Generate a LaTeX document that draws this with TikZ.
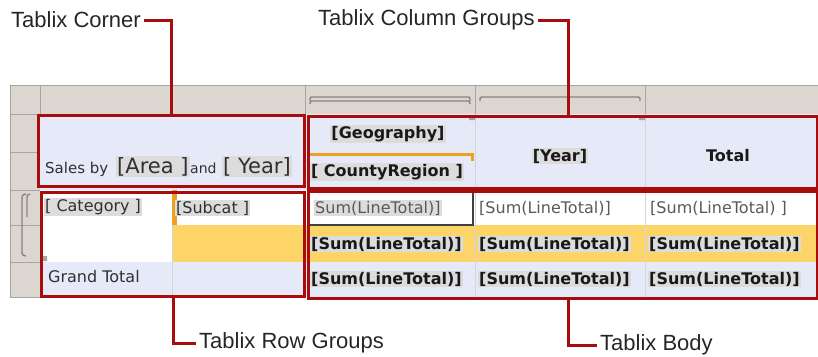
\documentclass[tikz,border=0pt]{standalone}
\usepackage{fontspec}
\setmainfont{DejaVu Sans}
\newfontfamily\calfont{Liberation Sans}
\usetikzlibrary{positioning}
\definecolor{hgrey}{HTML}{DCD6D0}
\definecolor{lgrey}{HTML}{A8A4A0}
\definecolor{bgrey}{HTML}{8A847E}
\definecolor{cgrey}{HTML}{D4D4DC}
\definecolor{lblue}{HTML}{E6EAF8}
\definecolor{yel}{HTML}{FCD468}
\definecolor{orng}{HTML}{F0A020}
\definecolor{tred}{HTML}{A80C0C}
\definecolor{fgrey}{HTML}{DCDCDC}
\definecolor{dtext}{HTML}{303030}
\definecolor{mtext}{HTML}{5A5A5A}
\begin{document}
\begin{tikzpicture}[x=1pt,y=-1pt,
  hline/.style={draw=lgrey,line width=0.8pt},
  cline/.style={draw=cgrey,line width=0.6pt},
  brk/.style={draw=bgrey,line width=1.4pt},
  redbox/.style={draw=tred,line width=3pt,inner sep=0pt,anchor=north west},
  callout/.style={draw=tred,line width=3pt},
  lbl/.style={font=\calfont\fontsize{22}{24}\selectfont,inner xsep=3pt,inner ysep=0pt,text=black!85},
  fld/.style={fill=fgrey,inner sep=1pt,text=dtext,font=\fontsize{16}{18}\selectfont},
  bfld/.style={fld,font=\bfseries\fontsize{16}{18}\selectfont,text=black!90},
  plain/.style={inner sep=0pt,text=dtext,font=\fontsize{16}{18}\selectfont}]
  \useasboundingbox (0,0) rectangle (818,356);
  % handles
  \fill[hgrey] (10,85) rectangle (818,114);
  \fill[hgrey] (10,85) rectangle (40,297);
  \foreach \x in {40,305,475,645} \draw[hline] (\x,85) -- (\x,114);
  \foreach \y in {114,152,190,225,262,297} \draw[hline] (10,\y) -- (40,\y);
  \draw[hline] (10,85) -- (818,85) (10,85) -- (10,297);
  \draw[brk] (310,104) .. controls (310,101) .. (314,101) -- (466,101) .. controls (470,101) .. (470,104);
  \draw[brk] (310,101) .. controls (310,97) .. (314,97) -- (466,97) .. controls (470,97) .. (470,101);
  \draw[brk] (480,101) .. controls (480,97) .. (484,97) -- (636,97) .. controls (640,97) .. (640,101);
  \draw[brk] (26,194) .. controls (22,195) .. (22,200) -- (22,250) .. controls (22,255) .. (26,256);
  \draw[brk] (30,194) .. controls (27,195) .. (27,199) -- (27,217);
  % cells
  \fill[lblue] (40,114) rectangle (818,190);
  \fill[white] (40,190) rectangle (818,225);
  \fill[white] (40,225) rectangle (172,262);
  \fill[yel] (172,225) rectangle (818,262);
  \fill[lblue] (40,262) rectangle (818,297);
  \draw[cline] (172,190) -- (172,297);
  \foreach \x in {475,645} \draw[cline] (\x,114) -- (\x,297);
  \fill[orng] (172,190) rectangle (177,225);
  \draw[orng,line width=3pt] (307,154) -- (472,154) -- (472,161);
  \fill[lgrey] (469,116) rectangle (475,120) (639,116) rectangle (645,120) (42,256) rectangle (47,261);
  \draw[black!75,line width=2.5pt] (308,192) rectangle (473,225);
  % texts
  \node[plain,anchor=base west,font=\fontsize{15}{17}\selectfont] (sales) at (45,173) {Sales by};
  \node[fld,anchor=base west,font=\fontsize{21}{23}\selectfont] (area) at (116,173) {[Area ]};
  \node[plain,anchor=base west,font=\fontsize{14}{16}\selectfont] (andw) at (190,173) {and};
  \node[fld,anchor=base west,font=\fontsize{21}{23}\selectfont] (year) at (222,173) {[ Year]};
  \node[bfld] (geo) at (388,134) {[Geography]};
  \node[bfld] (county) at (387,172) {[ CountyRegion ]};
  \node[bfld] (yearh) at (560,156) {[Year]};
  \node[bfld,fill=none] (total) at (728,156) {Total};
  \node[fld,anchor=west] (cat) at (44,207) {[ Category ]};
  \node[fld,anchor=west] (subcat) at (175,208) {[Subcat ]};
  \node[plain,anchor=west] (grand) at (48,277) {Grand Total};
  \node[fld,anchor=west,text=mtext] (sa) at (314,208) {Sum(LineTotal)]};
  \node[fld,anchor=west,text=mtext,fill=none] (sb) at (478,208) {[Sum(LineTotal)]};
  \node[fld,anchor=west,text=mtext,fill=none] (sc) at (649,208) {[Sum(LineTotal) ]};
  \foreach \y/\n in {244/m,279/g} {
    \node[bfld,anchor=west] (\n a) at (310,\y) {[Sum(LineTotal)]};
    \node[bfld,anchor=west] (\n b) at (478,\y) {[Sum(LineTotal)]};
    \node[bfld,anchor=west] (\n c) at (648,\y) {[Sum(LineTotal)]};
  }
  % red boxes
  \node[redbox,minimum width=266pt,minimum height=71pt] (corner) at (37,114) {};
  \node[redbox,minimum width=509pt,minimum height=72pt] (colgrp) at (307,115) {};
  \node[redbox,minimum width=263pt,minimum height=104pt] (rowgrp) at (40,191) {};
  \node[redbox,minimum width=509pt,minimum height=107pt] (body) at (307,190) {};
  % callouts
  \node[lbl,anchor=west] (tcorner) at (8,20) {Tablix Corner};
  \node[lbl,anchor=west] (tcolgrp) at (315,20) {Tablix Column Groups};
  \node[lbl,anchor=west] (trowgrp) at (196,343) {Tablix Row Groups};
  \node[lbl,anchor=west] (tbody) at (597,345) {Tablix Body};
  \draw[callout] (tcorner.east) -| (corner.north);
  \draw[callout] (tcolgrp.east) -| ([xshift=5.5pt]colgrp.north);
  \draw[callout] (rowgrp.south) |- (trowgrp.west);
  \draw[callout] ([xshift=5.5pt]body.south) |- (tbody.west);
\end{tikzpicture}
\end{document}
